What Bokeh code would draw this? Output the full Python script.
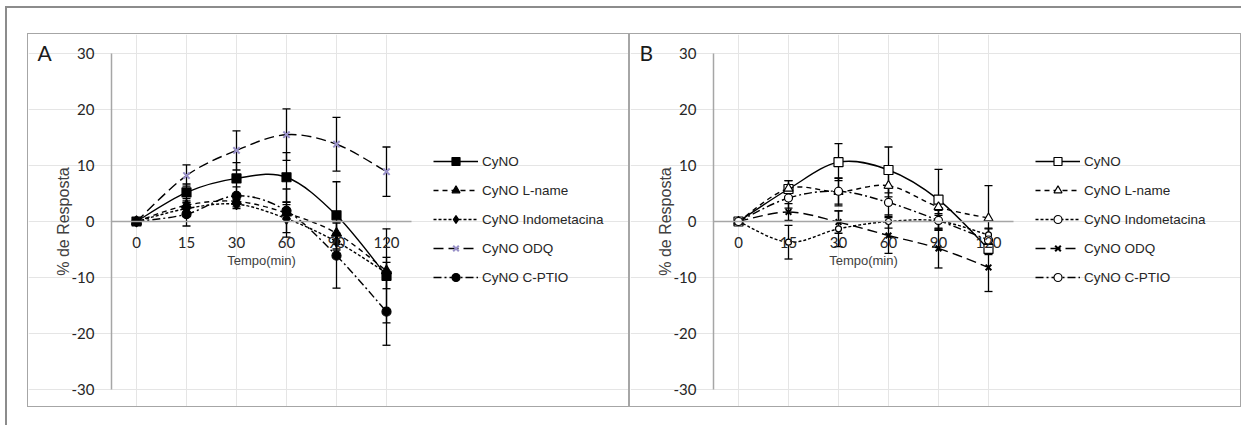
import numpy as np
from bokeh.plotting import figure
from bokeh.models import (Range1d, FixedTicker, Legend, LegendItem, Whisker, TeeHead,
                          ColumnDataSource, Label, Spacer, LinearAxis)
from bokeh.layouts import row, column
from bokeh.embed import file_html
from bokeh.resources import INLINE

# ---------------- data ----------------
times = ["0", "15", "30", "60", "90", "120"]
series = ["CyNO", "CyNO L-name", "CyNO Indometacina", "CyNO ODQ", "CyNO C-PTIO"]
y_ticks = [-30, -20, -10, 0, 10, 20, 30]
y_tick_labels = ["-30", "-20", "-10", "0", "10", "20", "30"]

# Panel A
a_cyno = [0, 5.2, 7.7, 7.9, 1.1, -9.7]
a_lname = [0, 2.9, 3.6, 1.5, -2.1, -8.8]
a_indo = [0, 2.3, 3.1, 0.5, -3.6, -9.2]
a_odq = [0, 8.2, 12.7, 15.5, 13.8, 8.9]
a_cptio = [0, 1.3, 4.6, 1.9, -6.1, -16.1]

a_cyno_err = [0, 1.5, 2.8, 4.4, 6.0, 8.4]
a_lname_err = [0, 1.2, 1.0, 4.3, 2.0, 1.5]
a_indo_err = [0, 1.0, 0.8, 2.5, 1.5, 2.8]
a_odq_err = [0, 1.9, 3.5, 4.6, 4.8, 4.4]
a_cptio_err = [0, 2.1, 1.6, 1.5, 5.8, 6.0]

# Panel B
b_cyno = [0, 5.8, 10.6, 9.2, 3.9, -4.9]
b_lname = [0, 5.9, 5.3, 6.4, 2.6, 0.6]
b_indo = [0, -3.7, -1.3, 0.0, 0.1, -2.4]
b_odq = [0, 1.7, -0.1, -2.5, -4.8, -8.2]
b_cptio = [0, 4.2, 5.4, 3.4, 0.2, -3.3]

b_cyno_err = [0, 1.5, 3.3, 4.1, 5.4, 1.0]
b_lname_err = [0, 1.4, 2.5, 2.0, 1.5, 5.8]
b_indo_err = [0, 3.0, 3.2, 1.2, 1.3, 1.2]
b_odq_err = [0, 1.5, 2.0, 3.2, 3.5, 4.3]
b_cptio_err = [0, 1.8, 2.3, 2.5, 1.8, 2.0]

# ---------------- styles ----------------
dashes = ["solid", "5 4", "3 2", "10 5", "8 3 2 3"]
styles_a = [
    dict(marker="square", fill="black", color="black", size=9),
    dict(marker="triangle", fill="black", color="black", size=10),
    dict(marker="diamond", fill="black", color="black", size=11),
    dict(marker="x", fill=None, color="#9890c8", size=9),
    dict(marker="circle", fill="black", color="black", size=9),
]
styles_b = [
    dict(marker="square", fill="white", color="black", size=9),
    dict(marker="triangle", fill="white", color="black", size=9),
    dict(marker="circle", fill="white", color="black", size=6),
    dict(marker="x", fill=None, color="black", size=8),
    dict(marker="circle", fill="white", color="black", size=8),
]

LABEL_FONT = "Liberation Sans"
TICK_FONT = "Lato"
CAT_PX = 50      # pixel width of one time category
LEFT = 83        # px from panel edge to y axis
TOP = 19
BOTTOM = 19
FRAME_H = 336    # px for the -30..30 span
Y_PX = FRAME_H / 60.0


def smooth_segments(vals):
    x = np.arange(len(vals), dtype=float)
    y = np.asarray(vals, dtype=float)
    n = len(vals)
    segs = dict(x0=[], y0=[], x1=[], y1=[], cx0=[], cy0=[], cx1=[], cy1=[])
    for i in range(n - 1):
        i0 = max(i - 1, 0)
        i3 = min(i + 2, n - 1)
        segs["x0"].append(x[i]); segs["y0"].append(y[i])
        segs["x1"].append(x[i + 1]); segs["y1"].append(y[i + 1])
        segs["cx0"].append(x[i] + (x[i + 1] - x[i0]) / 6)
        segs["cy0"].append(y[i] + (y[i + 1] - y[i0]) / 6)
        segs["cx1"].append(x[i + 1] - (x[i3] - x[i]) / 6)
        segs["cy1"].append(y[i + 1] - (y[i3] - y[i]) / 6)
    return segs


def build(letter, values, errors, styles, width):
    n = len(times)
    height = TOP + FRAME_H + BOTTOM
    x0 = -0.5 - LEFT / CAT_PX
    p = figure(width=width, height=height,
               x_range=Range1d(x0, x0 + width / CAT_PX),
               y_range=Range1d(-30 - BOTTOM / Y_PX, 30 + TOP / Y_PX),
               output_backend="svg", toolbar_location=None,
               x_axis_location=None, y_axis_location=None,
               min_border_left=0, min_border_top=0, min_border_bottom=0, min_border_right=0)
    p.outline_line_color = None
    p.background_fill_color = "white"
    p.border_fill_color = "white"
    p.styles = {"border": "1px solid #a6a6a6"}

    yax = LinearAxis(fixed_location=-0.5, bounds=(-30, 30))
    yax.ticker = FixedTicker(ticks=y_ticks)
    yax.major_label_overrides = {t: s for t, s in zip(y_ticks, y_tick_labels)}
    yax.axis_line_color = "#a6a6a6"
    yax.axis_line_width = 1.5
    yax.major_tick_line_color = None
    yax.minor_tick_line_color = None
    yax.major_label_standoff = 11
    yax.major_label_text_font = TICK_FONT
    yax.major_label_text_font_size = "15px"
    yax.major_label_text_color = "#262626"
    p.add_layout(yax, "left")

    xax = LinearAxis(fixed_location=0, bounds=(-0.5, n - 0.5))
    xax.ticker = FixedTicker(ticks=list(range(n)))
    xax.major_label_overrides = {i: t for i, t in enumerate(times)}
    xax.axis_line_color = "#a6a6a6"
    xax.axis_line_width = 1.5
    xax.major_tick_line_color = None
    xax.minor_tick_line_color = None
    xax.major_label_standoff = 9
    xax.major_label_text_font = TICK_FONT
    xax.major_label_text_font_size = "15px"
    xax.major_label_text_color = "#262626"
    p.add_layout(xax, "below")

    p.add_layout(Label(x=(n - 1) / 2, y=0, y_offset=-31, text="Tempo(min)",
                       text_font=LABEL_FONT, text_font_size="13px", text_color="#404040",
                       text_align="center", text_baseline="top"))
    p.add_layout(Label(x=-0.5, y=0, x_offset=-48, text="% de Resposta", angle=np.pi / 2,
                       text_font=LABEL_FONT, text_font_size="16px", text_color="#404040",
                       text_align="center", text_baseline="middle"))
    p.add_layout(Label(x=-0.5, y=30, x_offset=-74, y_offset=14, text=letter,
                       text_font=TICK_FONT, text_font_size="21px",
                       text_baseline="top", text_align="left", text_color="#1a1a1a"))

    items = []
    xs = list(range(n))
    for name, vals, errs, dash, st in zip(series, values, errors, dashes, styles):
        src_err = ColumnDataSource(dict(x=xs[1:],
                                        upper=[v + e for v, e in zip(vals[1:], errs[1:])],
                                        lower=[v - e for v, e in zip(vals[1:], errs[1:])]))
        w = Whisker(source=src_err, base="x", upper="upper", lower="lower",
                    line_color="black", line_width=1.3,
                    upper_head=TeeHead(size=8, line_color="black", line_width=1.3),
                    lower_head=TeeHead(size=8, line_color="black", line_width=1.3))
        p.add_layout(w)
        segs = smooth_segments(vals)
        br = p.bezier(x0="x0", y0="y0", x1="x1", y1="y1", cx0="cx0", cy0="cy0", cx1="cx1", cy1="cy1",
                      source=ColumnDataSource(segs), line_color="black", line_width=1.4, line_dash=dash)
        if st["fill"] is None:
            sr = p.scatter(xs, vals, marker=st["marker"], size=st["size"], line_color=st["color"],
                           line_width=2)
        else:
            sr = p.scatter(xs, vals, marker=st["marker"], size=st["size"], line_color=st["color"],
                           fill_color=st["fill"], line_width=1.2)
        items.append(LegendItem(label=name, renderers=[br, sr]))

    legend = Legend(items=items, location=(405, 121), glyph_width=45, glyph_height=20,
                    spacing=9, label_text_font=LABEL_FONT, label_text_font_size="13.5px",
                    label_text_color="#262626", label_standoff=4,
                    border_line_color=None, background_fill_alpha=0, margin=0, padding=10)
    p.add_layout(legend, "center")
    return p


pA = build("A", [a_cyno, a_lname, a_indo, a_odq, a_cptio],
           [a_cyno_err, a_lname_err, a_indo_err, a_odq_err, a_cptio_err], styles_a, 602)
pB = build("B", [b_cyno, b_lname, b_indo, b_odq, b_cptio],
           [b_cyno_err, b_lname_err, b_indo_err, b_odq_err, b_cptio_err], styles_b, 612)

layout = column(Spacer(height=25), row(Spacer(width=20), pA, pB), Spacer(height=18),
                margin=(6, 0, 0, 5),
                styles={"border-left": "2px solid #8c8c8c", "border-top": "2px solid #8c8c8c"})

open("out.html", "w").write(file_html(layout, INLINE))
